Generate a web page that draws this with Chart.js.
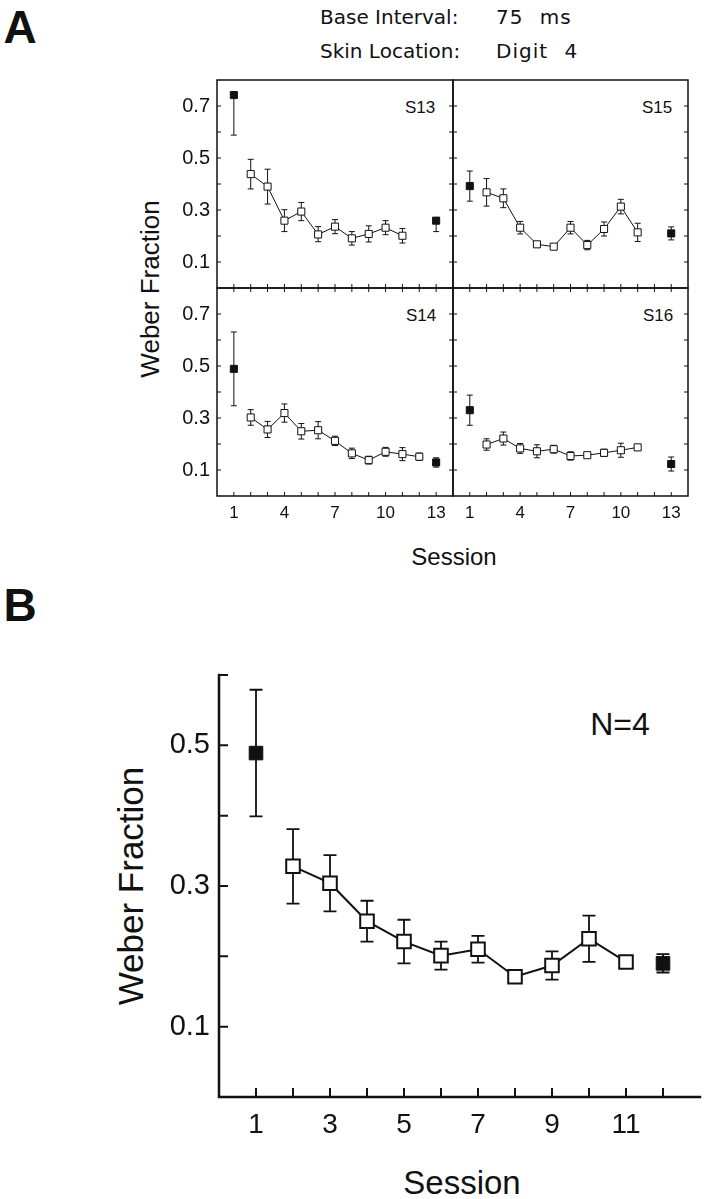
<!DOCTYPE html>
<html><head><meta charset="utf-8">
<script src="https://cdn.jsdelivr.net/npm/chart.js@4.4.1/dist/chart.umd.min.js"></script>
<style>
html,body{margin:0;padding:0;background:#fff}
body{width:711px;height:1199px;position:relative;overflow:hidden;font-family:"Liberation Sans",Arial,sans-serif;color:#111}
.cw{position:absolute}
.cw canvas{display:block}
.t{position:absolute;white-space:pre;line-height:1;transform:translate(-50%,-50%)}
.l{position:absolute;white-space:pre;line-height:1;transform:translateY(-50%)}
.hd{font-family:"DejaVu Sans","Liberation Sans",sans-serif;font-size:20px}
.hv{font-family:"DejaVu Sans","Liberation Sans",sans-serif;font-size:20px;letter-spacing:1px;word-spacing:9px}
</style></head><body>
<div class="t" style="left:20px;top:27px;font-size:46px;font-weight:bold">A</div>
<div class="l hd" style="left:320px;top:17px">Base Interval:</div>
<div class="l hv" style="left:496px;top:17px">75 ms</div>
<div class="l hd" style="left:320px;top:51px">Skin Location:</div>
<div class="l hv" style="left:496px;top:51px">Digit 4</div>
<div class="t" style="left:150px;top:289px;font-size:26px;transform:translate(-50%,-50%) rotate(-90deg)">Weber Fraction</div>
<div class="t" style="left:454px;top:557px;font-size:24px">Session</div>
<div class="t" style="left:420px;top:107px;font-size:17px">S13</div>
<div class="t" style="left:657px;top:107px;font-size:17px">S15</div>
<div class="t" style="left:421px;top:315px;font-size:17px">S14</div>
<div class="t" style="left:658px;top:315px;font-size:17px">S16</div>
<div class="t" style="left:20px;top:605px;font-size:46px;font-weight:bold">B</div>
<div class="t" style="left:620px;top:724px;font-size:32px">N=4</div>
<div class="t" style="left:130px;top:886px;font-size:35px;transform:translate(-50%,-50%) rotate(-90deg)">Weber Fraction</div>
<div class="t" style="left:462px;top:1182px;font-size:33px">Session</div>

<div id="wTL" class="cw"><canvas id="TL"></canvas></div>
<div id="wTR" class="cw"><canvas id="TR"></canvas></div>
<div id="wBL" class="cw"><canvas id="BL"></canvas></div>
<div id="wBR" class="cw"><canvas id="BR"></canvas></div>
<div id="wB" class="cw"><canvas id="PB"></canvas></div>

<script>
// ---------------- DATA ----------------
const sessionsA = [1,2,3,4,5,6,7,8,9,10,11,12,13];
const filledIdxA = [0, 12];            // pre/post test sessions (filled squares)
const xTickLabelsA = [1,4,7,10,13];
const yTickLabelsA = ['0.1','0.3','0.5','0.7'];
const xTickMarksA = [1,2,3,4,5,6,7,8,9,10,11,12,13];
const yTickMarksA = [0.1,0.2,0.3,0.4,0.5,0.6,0.7];

const s13Mean = [0.742,0.438,0.390,0.259,0.294,0.206,0.236,0.191,0.208,0.232,0.201,null,0.259];
const s13Up   = [0.000,0.057,0.067,0.042,0.035,0.030,0.027,0.026,0.031,0.027,0.028,null,0.000];
const s13Down = [0.154,0.057,0.067,0.042,0.035,0.028,0.027,0.026,0.031,0.027,0.028,null,0.042];

const s15Mean = [0.392,0.368,0.345,0.232,0.168,0.159,0.232,0.165,0.227,0.313,0.214,null,0.210];
const s15Err  = [0.058,0.053,0.036,0.024,0.008,0.006,0.024,0.018,0.027,0.028,0.035,null,0.025];

const s14Mean = [0.489,0.302,0.256,0.319,0.249,0.253,0.212,0.164,0.138,0.170,0.161,0.151,0.129];
const s14Err  = [0.142,0.030,0.031,0.035,0.030,0.033,0.018,0.020,0.015,0.017,0.025,0.014,0.018];

const s16Mean = [0.330,0.198,0.221,0.183,0.172,0.180,0.154,0.157,0.166,0.176,0.187,null,0.123];
const s16Err  = [0.058,0.022,0.025,0.019,0.025,0.015,0.016,0.006,0.014,0.027,0.005,null,0.027];

const sessionsB = [1,2,3,4,5,6,7,8,9,10,11,12];
const filledIdxB = [0, 11];
const meanB = [0.489,0.328,0.304,0.250,0.221,0.201,0.210,0.171,0.187,0.225,0.192,0.190];
const errB  = [0.090,0.053,0.040,0.029,0.031,0.020,0.019,0.006,0.020,0.033,0.007,0.013];
const xTickLabelsB = [1,3,5,7,9,11];
const yTickLabelsB = ['0.1','0.3','0.5'];
const xTickMarksB = [1,2,3,4,5,6,7,8,9,10,11,12];
const yTickMarksB = [0.1,0.2,0.3,0.4,0.5,0.6];

// ---------------- PLUGINS ----------------
const INK = '#111';
const errorBars = {
  id: 'errorBars',
  beforeDatasetsDraw(chart, args, o) {
    const {ctx, chartArea: a, scales: {x, y}} = chart;
    ctx.save();
    ctx.beginPath(); ctx.rect(a.left, a.top, a.right - a.left, a.bottom - a.top); ctx.clip();
    ctx.strokeStyle = INK; ctx.lineWidth = o.lineWidth; ctx.lineCap = 'butt';
    ctx.beginPath();
    o.sessions.forEach((s, i) => {
      const m = o.mean[i]; if (m == null) return;
      const up = o.up[i], dn = o.down[i];
      const px = x.getPixelForValue(s);
      const yt = y.getPixelForValue(m + up), yb = y.getPixelForValue(m - dn);
      ctx.moveTo(px, yt); ctx.lineTo(px, yb);
      if (up > 0) { ctx.moveTo(px - o.cap, yt); ctx.lineTo(px + o.cap, yt); }
      if (dn > 0) { ctx.moveTo(px - o.cap, yb); ctx.lineTo(px + o.cap, yb); }
    });
    ctx.stroke();
    ctx.restore();
  }
};
const frame = {
  id: 'frame',
  afterDraw(chart, args, o) {
    const {ctx, chartArea: a, scales: {x, y}} = chart;
    ctx.save();
    ctx.strokeStyle = INK; ctx.lineWidth = o.lineWidth; ctx.lineCap = 'square';
    ctx.beginPath();
    if (o.box) ctx.rect(a.left, a.top, a.right - a.left, a.bottom - a.top);
    else { ctx.moveTo(a.left, a.top); ctx.lineTo(a.left, a.bottom); ctx.lineTo(a.right, a.bottom); }
    ctx.stroke();
    ctx.lineWidth = o.tickWidth; ctx.lineCap = 'butt';
    ctx.beginPath();
    const L = o.tickLen;
    o.xTicks.forEach(v => {
      const px = x.getPixelForValue(v);
      if (o.sides.includes('bottom')) { ctx.moveTo(px, a.bottom); ctx.lineTo(px, a.bottom - L); }
      if (o.sides.includes('top')) { ctx.moveTo(px, a.top); ctx.lineTo(px, a.top + L); }
    });
    o.yTicks.forEach(v => {
      const py = y.getPixelForValue(v);
      if (o.sides.includes('left')) { ctx.moveTo(a.left, py); ctx.lineTo(a.left + L, py); }
      if (o.sides.includes('right')) { ctx.moveTo(a.right, py); ctx.lineTo(a.right - L, py); }
    });
    ctx.stroke();
    ctx.restore();
  }
};

function buildDatasets(sessions, mean, filled, st) {
  const open = [], fill = [];
  sessions.forEach((s, i) => {
    if (mean[i] == null) return;
    (filled.includes(i) ? fill : open).push({x: s, y: mean[i]});
  });
  return [
    {data: open, showLine: true, borderColor: INK, borderWidth: st.line, tension: 0,
     pointStyle: 'rect', pointRadius: st.r, pointBackgroundColor: '#fff',
     pointBorderColor: INK, pointBorderWidth: st.pb},
    {data: fill, showLine: false, pointStyle: 'rect', pointRadius: st.r,
     pointBackgroundColor: INK, pointBorderColor: INK, pointBorderWidth: 1}
  ];
}

function place(wrapId, canvasId, box) {
  const w = document.getElementById(wrapId);
  w.style.left = box.left + 'px'; w.style.top = box.top + 'px';
  w.style.width = box.width + 'px'; w.style.height = box.height + 'px';
  const c = document.getElementById(canvasId);
  c.width = box.width; c.height = box.height;
  c.style.width = box.width + 'px'; c.style.height = box.height + 'px';
  return c;
}

function makeChart(wrapId, canvasId, box, area, cfg) {
  const c = place(wrapId, canvasId, box);
  const padTop = area.t - box.top, padRight = box.left + box.width - area.r;
  const yW = area.l - box.left, xH = box.top + box.height - area.b;
  return new Chart(c, {
    type: 'scatter',
    data: {datasets: cfg.datasets},
    options: {
      responsive: false, animation: false, events: [],
      layout: {padding: {top: padTop, right: padRight, left: 0, bottom: 0}, autoPadding: false},
      plugins: {legend: {display: false}, tooltip: {enabled: false},
        errorBars: cfg.err, frame: cfg.frame},
      scales: {
        x: {type: 'linear', min: cfg.xMin, max: cfg.xMax,
          afterFit: s => { s.height = xH; },
          grid: {display: false, drawTicks: false}, border: {display: false},
          ticks: {display: cfg.showX, stepSize: 1, autoSkip: false, maxRotation: 0,
            padding: cfg.xPad, color: INK, font: {family: 'Liberation Sans', size: cfg.xFont},
            callback: v => cfg.xLabels.includes(v) ? String(v) : ''}},
        y: {type: 'linear', min: cfg.yMin, max: cfg.yMax,
          afterFit: s => { s.width = yW; },
          grid: {display: false, drawTicks: false}, border: {display: false},
          ticks: {display: cfg.showY, stepSize: 0.1, autoSkip: false,
            padding: cfg.yPad, color: INK, font: {family: 'Liberation Sans', size: cfg.yFont},
            callback: v => { const t = Number(v).toFixed(1); return cfg.yLabels.includes(t) ? t : ''; }}}
      }
    },
    plugins: [errorBars, frame]
  });
}

const stA = {line: 1, r: 5, pb: 1};
function panelA(wrapId, canvasId, box, area, mean, up, down, opts) {
  return makeChart(wrapId, canvasId, box, area, {
    datasets: buildDatasets(sessionsA, mean, filledIdxA, stA),
    err: {sessions: sessionsA, mean, up, down, lineWidth: 1, cap: 3},
    frame: {box: true, lineWidth: 1.5, tickWidth: 1, tickLen: 4,
      xTicks: xTickMarksA, yTicks: yTickMarksA, sides: opts.sides},
    xMin: 0, xMax: 14, yMin: 0, yMax: 0.8,
    showX: opts.showX, showY: opts.showY, xLabels: xTickLabelsA, yLabels: yTickLabelsA,
    xFont: 17, yFont: 20, xPad: 7, yPad: 7
  });
}

panelA('wTL', 'TL', {left: 100, top: 55, width: 363, height: 255}, {l: 217, t: 80, r: 453, b: 288},
  s13Mean, s13Up, s13Down, {showX: false, showY: true, sides: ['left', 'right', 'bottom']});
panelA('wTR', 'TR', {left: 440, top: 55, width: 262, height: 255}, {l: 453, t: 80, r: 688, b: 288},
  s15Mean, s15Err, s15Err, {showX: false, showY: false, sides: ['left', 'right', 'bottom']});
panelA('wBL', 'BL', {left: 100, top: 263, width: 363, height: 270}, {l: 217, t: 288, r: 453, b: 496},
  s14Mean, s14Err, s14Err, {showX: true, showY: true, sides: ['left', 'right', 'bottom', 'top']});
panelA('wBR', 'BR', {left: 440, top: 263, width: 262, height: 270}, {l: 453, t: 288, r: 688, b: 496},
  s16Mean, s16Err, s16Err, {showX: true, showY: false, sides: ['left', 'right', 'bottom', 'top']});

makeChart('wB', 'PB', {left: 100, top: 640, width: 611, height: 520}, {l: 219, t: 675, r: 703, b: 1097}, {
  datasets: buildDatasets(sessionsB, meanB, filledIdxB, {line: 2, r: 9.6, pb: 2}),
  err: {sessions: sessionsB, mean: meanB, up: errB, down: errB, lineWidth: 1.8, cap: 6.5},
  frame: {box: false, lineWidth: 2.5, tickWidth: 2, tickLen: 9,
    xTicks: xTickMarksB, yTicks: yTickMarksB, sides: ['left', 'bottom']},
  xMin: 0, xMax: 13, yMin: 0, yMax: 0.6,
  showX: true, showY: true, xLabels: xTickLabelsB, yLabels: yTickLabelsB,
  xFont: 28, yFont: 29, xPad: 11, yPad: 9
});
</script>
</body></html>
